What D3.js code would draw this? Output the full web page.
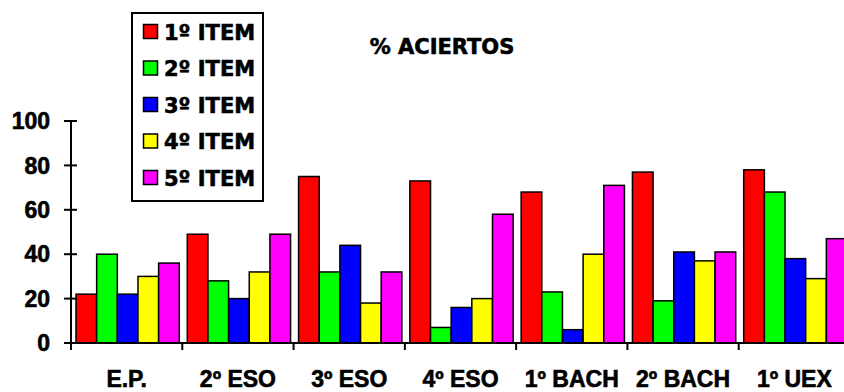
<!DOCTYPE html>
<html>
<head>
<meta charset="utf-8">
<script src="https://cdn.jsdelivr.net/npm/d3@7"></script>
<style>
html, body { margin: 0; padding: 0; background: #fff; }
svg { display: block; }
text { fill: #000; stroke: #000; stroke-width: 0.6px; }
</style>
</head>
<body>
<svg id="chart" width="844" height="392"></svg>
<script>
const categories = ["E.P.", "2º ESO", "3º ESO", "4º ESO", "1º BACH", "2º BACH", "1º UEX"];
const seriesNames = ["1º ITEM", "2º ITEM", "3º ITEM", "4º ITEM", "5º ITEM"];
const item1 = [22, 49, 75, 73, 68, 77, 78];
const item2 = [40, 28, 32, 7, 23, 19, 68];
const item3 = [22, 20, 44, 16, 6, 41, 38];
const item4 = [30, 32, 18, 20, 40, 37, 29];
const item5 = [36, 49, 32, 58, 71, 41, 47];
const yTicks = [0, 20, 40, 60, 80, 100];
const colors = ["#ff0000", "#00ff00", "#0000ff", "#ffff00", "#ff00ff"];
const titleText = "% ACIERTOS";

const series = [item1, item2, item3, item4, item5];

const svg = d3.select("#chart");
const x0 = 71, x1 = 850, yTop = 121, yBot = 343;

const x = d3.scaleBand().domain(categories).range([x0, x1]).padding(0);
const xi = d3.scaleBand().domain(seriesNames).range([5, x.bandwidth() - 3]).padding(0);
const y = d3.scaleLinear().domain([0, 100]).range([yBot, yTop]);

// bars
const g = svg.append("g");
categories.forEach((c, ci) => {
  series.forEach((s, si) => {
    g.append("rect")
      .attr("x", x(c) + xi(seriesNames[si]))
      .attr("y", y(s[ci]))
      .attr("width", xi.bandwidth())
      .attr("height", y(0) - y(s[ci]))
      .attr("fill", colors[si])
      .attr("stroke", "#000")
      .attr("stroke-width", 1.5);
  });
});

// y axis
svg.append("line").attr("x1", x0).attr("x2", x0).attr("y1", y(100)).attr("y2", y(0) + 7)
  .attr("stroke", "#000").attr("stroke-width", 2);
yTicks.forEach(t => {
  svg.append("line").attr("x1", x0 - 7).attr("x2", x0 + 6).attr("y1", y(t)).attr("y2", y(t))
    .attr("stroke", "#000").attr("stroke-width", 2);
  svg.append("text").attr("x", 50).attr("y", y(t)).attr("dy", "0.36em")
    .attr("text-anchor", "end")
    .style("font-family", "'Liberation Sans', Arial, sans-serif")
    .style("font-weight", "bold").style("font-size", "23px")
    .text(t);
});

// x axis
svg.append("line").attr("x1", x0 - 7).attr("x2", 844).attr("y1", y(0)).attr("y2", y(0))
  .attr("stroke", "#000").attr("stroke-width", 2);
categories.forEach(c => {
  const bx = x(c) + x.bandwidth();
  svg.append("line").attr("x1", bx).attr("x2", bx).attr("y1", y(0)).attr("y2", y(0) + 7)
    .attr("stroke", "#000").attr("stroke-width", 2);
  svg.append("text").attr("x", x(c) + x.bandwidth() / 2).attr("y", 387)
    .attr("text-anchor", "middle")
    .style("font-family", "'Liberation Sans', Arial, sans-serif")
    .style("font-weight", "bold").style("font-size", "23px")
    .text(c);
});

// title
svg.append("text").attr("x", 442).attr("y", 54).attr("text-anchor", "middle")
  .style("font-family", "'DejaVu Sans', sans-serif")
  .style("font-weight", "bold").style("font-size", "21px")
  .text(titleText);

// legend
const lg = svg.append("g");
lg.append("rect").attr("x", 132).attr("y", 13).attr("width", 131).attr("height", 188)
  .attr("fill", "#fff").attr("stroke", "#000").attr("stroke-width", 2);
seriesNames.forEach((n, i) => {
  const by = 39.5 + i * 36.5;
  lg.append("rect").attr("x", 143.5).attr("y", by - 15).attr("width", 14).attr("height", 14)
    .attr("fill", colors[i]).attr("stroke", "#000").attr("stroke-width", 1.5);
  lg.append("text").attr("x", 164).attr("y", by)
    .style("font-family", "'DejaVu Sans', sans-serif")
    .style("font-weight", "bold").style("font-size", "21px")
    .text(n);
});
</script>
</body>
</html>
